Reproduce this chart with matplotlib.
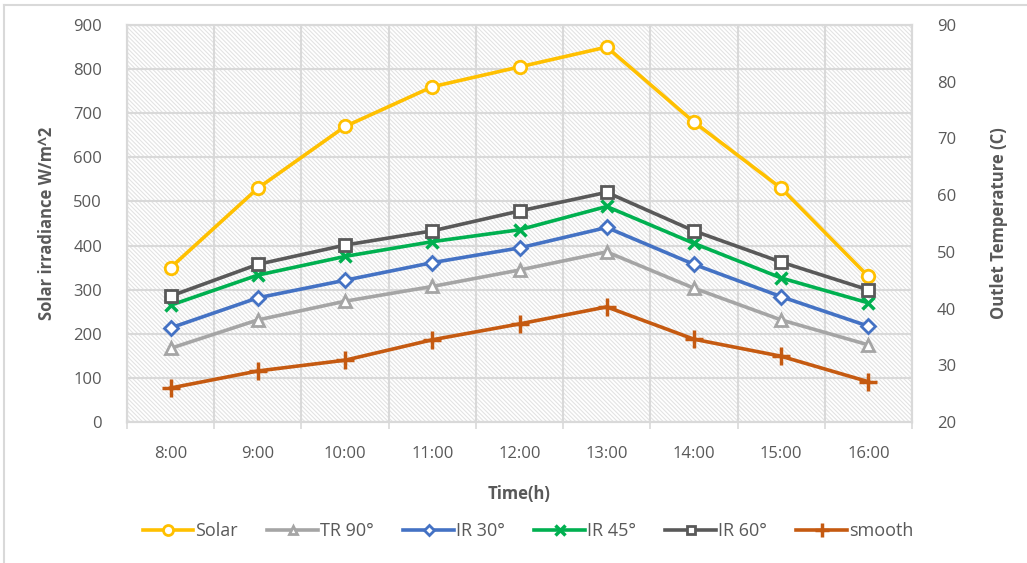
import matplotlib.pyplot as plt
import numpy as np

plt.rcParams['font.family'] = ['Open Sans', 'DejaVu Sans']
plt.rcParams['hatch.linewidth'] = 0.8

# data
times = ['8:00', '9:00', '10:00', '11:00', '12:00', '13:00', '14:00', '15:00', '16:00']
solar = [350, 530, 670, 760, 805, 850, 680, 530, 330]
tr90 = [33.0, 38.0, 41.3, 43.9, 46.8, 50.0, 43.6, 38.0, 33.6]
ir30 = [36.6, 41.9, 45.0, 48.1, 50.7, 54.3, 47.8, 42.1, 36.9]
ir45 = [40.6, 45.9, 49.2, 51.8, 53.9, 58.0, 51.5, 45.4, 41.0]
ir60 = [42.2, 47.8, 51.2, 53.7, 57.2, 60.5, 53.7, 48.2, 43.3]
smooth = [26.0, 29.0, 30.9, 34.5, 37.3, 40.3, 34.6, 31.6, 27.1]

txt = '#595959'
grid = '#d9d9d9'

fig = plt.figure(figsize=(10.27, 5.63), dpi=100)
ax = fig.add_axes([0.1237, 0.2504, 0.7643, 0.7052])
ax2 = ax.twinx()

x = np.arange(len(times))

# hatched plot area
ax.add_patch(plt.Rectangle((0, 0), 1, 1, transform=ax.transAxes, facecolor='white',
                           edgecolor='#e3e3e3', linewidth=0, hatch='\\' * 8, zorder=0))

ax.set_xlim(-0.5, len(times) - 0.5)
ax.set_ylim(0, 900)
ax.set_yticks(np.arange(0, 901, 100))
ax2.set_ylim(20, 90)
ax2.set_yticks(np.arange(20, 91, 10))

ax.set_xticks(x)
ax.set_xticklabels(times)
ax.set_xticks(np.arange(-0.5, len(times), 1), minor=True)
ax.tick_params(axis='x', which='major', length=0, pad=17, labelsize=12, labelcolor=txt)
ax.tick_params(axis='x', which='minor', length=5, color=grid, width=1.2)
ax.tick_params(axis='y', length=0, pad=18, labelsize=12, labelcolor=txt)
ax2.tick_params(axis='y', length=0, pad=18, labelsize=12, labelcolor=txt)

ax.grid(True, which='minor', axis='x', color=grid, lw=1.5)
ax.grid(True, which='major', axis='y', color=grid, lw=1.5)
ax.set_axisbelow(True)
for a in (ax, ax2):
    for s in a.spines.values():
        s.set_color(grid)
        s.set_linewidth(1.5)

lw = 2.6
ms = 8
mw = 2.0
l1, = ax.plot(x, solar, '-o', color='#FFC000', lw=lw, ms=ms + 1, mfc='white', mew=mw, label='Solar', zorder=5)
l2, = ax2.plot(x, tr90, '-^', color='#A5A5A5', lw=lw, ms=ms, mfc='white', mew=mw, label='TR 90°')
l3, = ax2.plot(x, ir30, '-D', color='#4472C4', lw=lw, ms=ms - 1, mfc='white', mew=mw, label='IR 30°')
l4, = ax2.plot(x, ir45, '-x', color='#00B050', lw=lw, ms=ms + 1, mew=2.5, label='IR 45°')
l5, = ax2.plot(x, ir60, '-s', color='#595959', lw=lw, ms=ms, mfc='white', mew=mw, label='IR 60°')
l6, = ax2.plot(x, smooth, '-+', color='#C55A11', lw=lw, ms=ms + 5, mew=2.5, label='smooth')

ax.set_xlabel('Time(h)', fontsize=12, fontweight='bold', color=txt, labelpad=17)
ax.set_ylabel('Solar irradiance W/m^2', fontsize=12, fontweight='bold', color=txt, labelpad=12)
ax2.set_ylabel('Outlet Temperature (C)', fontsize=12, fontweight='bold', color=txt, labelpad=24)

fig.legend(handles=[l1, l2, l3, l4, l5, l6], loc='center', bbox_to_anchor=(0.514, 0.057),
           ncol=6, frameon=False, fontsize=13, handlelength=2.8, handletextpad=0.1,
           columnspacing=1.65, markerscale=0.8, labelcolor=txt)

# chart border (cut at the right and bottom in the reference)
fig.add_artist(plt.Line2D([0.004, 0.004], [0, 0.992], transform=fig.transFigure, color=grid, lw=1.5))
fig.add_artist(plt.Line2D([0.004, 1], [0.992, 0.992], transform=fig.transFigure, color=grid, lw=1.5))

fig.savefig('out.png', dpi=100)
